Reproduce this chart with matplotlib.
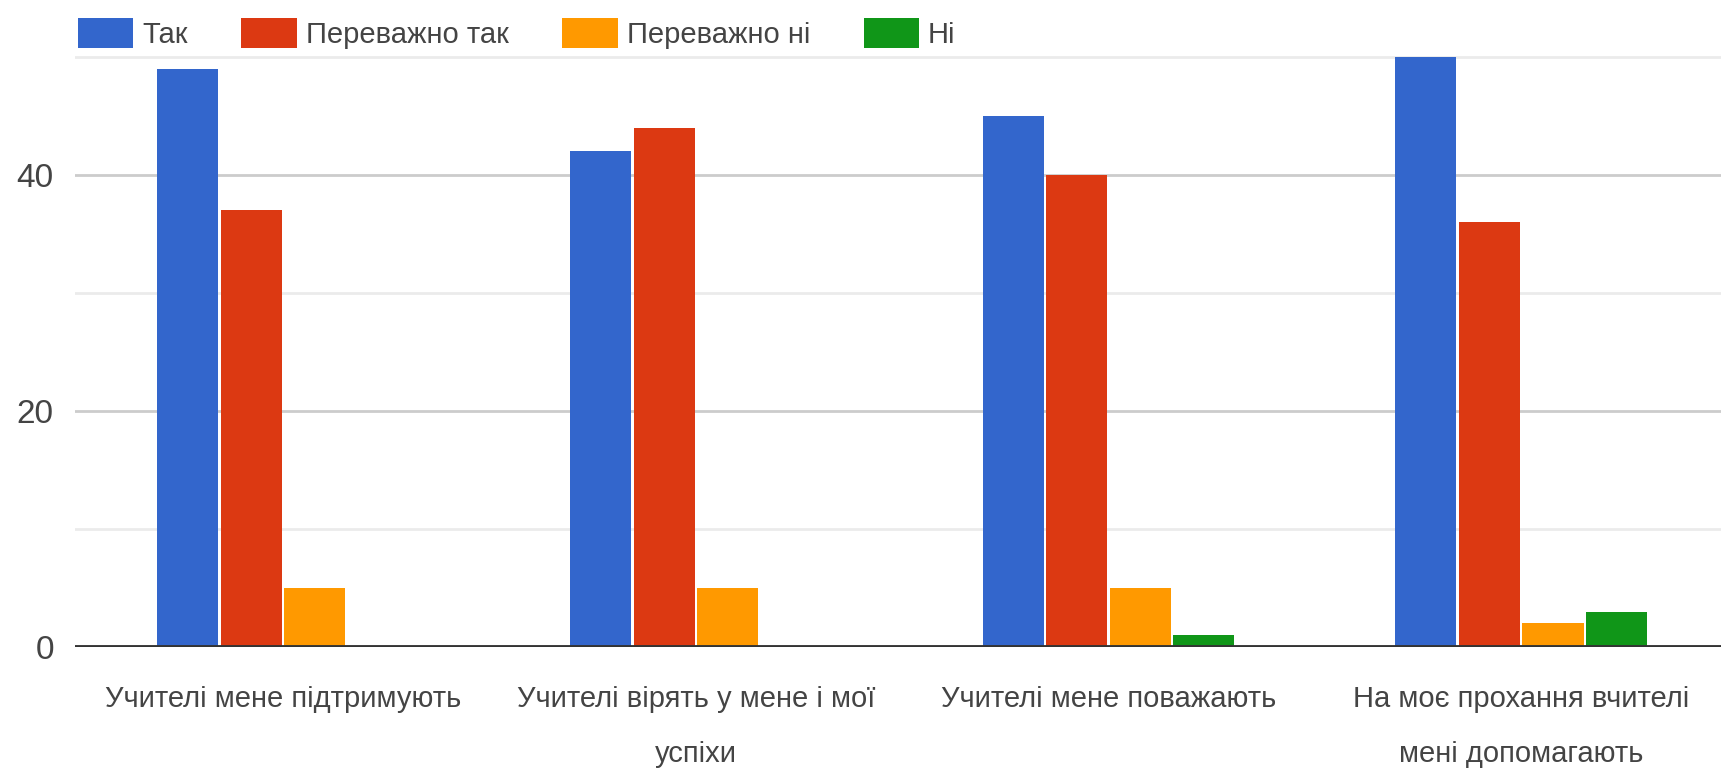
import matplotlib
matplotlib.use("Agg")
import matplotlib.pyplot as plt
import numpy as np

# ------------------------------------------------------------ дані
categories = [
    "Учителі мене підтримують",
    "Учителі вірять у мене і мої\nуспіхи",
    "Учителі мене поважають",
    "На моє прохання вчителі\nмені допомагають",
]
series_names = ["Так", "Переважно так", "Переважно ні", "Ні"]
tak = [49, 42, 45, 50]
perevazhno_tak = [37, 44, 40, 36]
perevazhno_ni = [5, 5, 5, 2]
ni = [0, 0, 1, 3]
y_ticks = [0, 20, 40]

COLORS = ["#3366CC", "#DC3912", "#FF9900", "#109618"]
FONT = ["Liberation Sans Narrow", "Liberation Sans", "DejaVu Sans"]
TXT = "#444444"

plt.rcParams["font.family"] = FONT

fig = plt.figure(figsize=(17.21, 7.71), dpi=100)
fig.patch.set_facecolor("white")
ax = fig.add_axes([0.0434, 0.1608, 0.9566, 0.7700])

x = np.arange(len(categories))
slot = 0.154
width = 0.148
values = [tak, perevazhno_tak, perevazhno_ni, ni]
for i, (name, vals) in enumerate(zip(series_names, values)):
    ax.bar(x + (i - 1.5) * slot, vals, width, color=COLORS[i], label=name,
           zorder=3)

ax.set_xlim(-0.505, 3.484)
ax.set_ylim(0, 50.3)

ax.set_yticks(y_ticks)
ax.set_yticks([10, 30, 50], minor=True)
ax.grid(axis="y", which="major", color="#cccccc", lw=2, zorder=0)
ax.grid(axis="y", which="minor", color="#ebebeb", lw=2, zorder=0)
ax.axhline(0, color="#333333", lw=3.5, zorder=4)

ax.set_xticks(x)
ax.set_xticklabels(categories, fontsize=21, color=TXT, linespacing=2.25)
ax.tick_params(axis="x", length=0, pad=27)
ax.tick_params(axis="y", which="both", length=0, pad=15, labelsize=24,
               labelcolor=TXT)
for s in ax.spines.values():
    s.set_visible(False)

leg = fig.legend(loc="upper left", bbox_to_anchor=(0.035, 1.0), ncol=4,
                 frameon=False, fontsize=21, handlelength=1.9,
                 handleheight=1.25, handletextpad=0.3, columnspacing=1.85,
                 borderaxespad=0.2)
for t in leg.get_texts():
    t.set_color(TXT)

fig.savefig("out.png", dpi=100)
